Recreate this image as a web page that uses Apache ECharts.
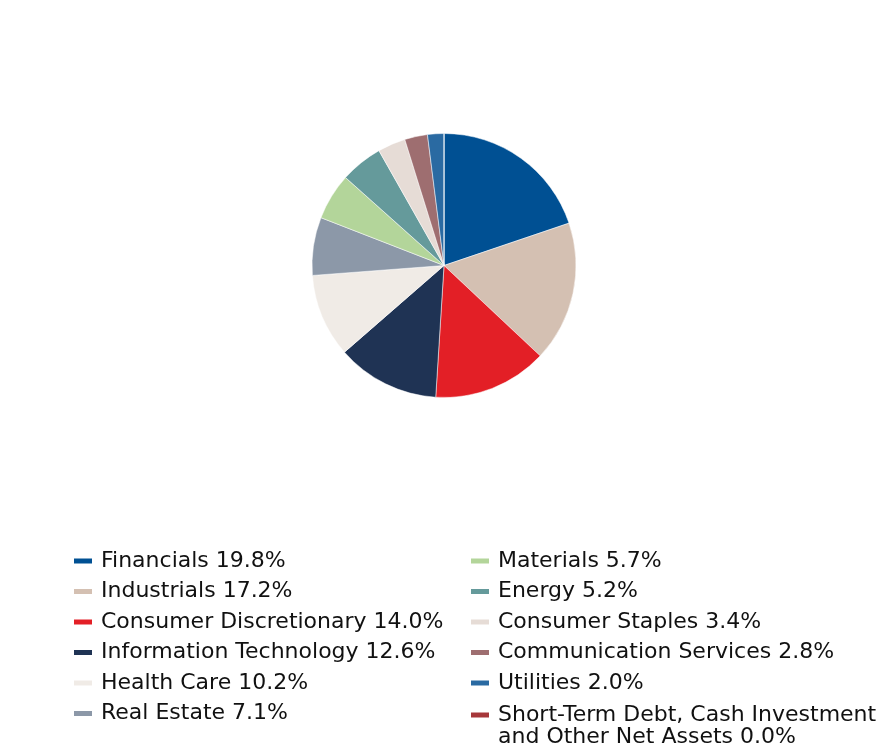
<!DOCTYPE html>
<html>
<head>
<meta charset="utf-8">
<script src="https://cdn.jsdelivr.net/npm/echarts@6/dist/echarts.min.js"></script>
<style>html,body{margin:0;padding:0;background:#fff;}#chart{width:888px;height:756px;}</style>
</head>
<body>
<div id="chart"></div>
<script>
const categories = ["Financials","Industrials","Consumer Discretionary","Information Technology","Health Care","Real Estate","Materials","Energy","Consumer Staples","Communication Services","Utilities","Short-Term Debt, Cash Investment and Other Net Assets"];
const values = [19.8,17.2,14.0,12.6,10.2,7.1,5.7,5.2,3.4,2.8,2.0,0.0];
const colors = ["#005093","#D4C0B2","#E31F26","#1F3354","#F0EBE6","#8C98A8","#B3D59A","#659A9B","#E6DCD6","#9E6E70","#2A6AA2","#A6373A"];
const legendLabels = {};
categories.forEach((c,i)=>{ legendLabels[c] = c + " " + values[i].toFixed(1) + "%"; });
legendLabels[categories[11]] = "Short-Term Debt, Cash Investment\nand Other Net Assets " + values[11].toFixed(1) + "%";

const chart = echarts.init(document.getElementById('chart'), null, {renderer:'canvas'});
const textStyle = {fontFamily:'DejaVu Sans', fontSize:22, color:'#111111', lineHeight:22, padding:[0,0,0,3]};
const baseLegend = {orient:'vertical', itemWidth:20, itemHeight:7, icon:'rect', itemGap:8.5, padding:0,
  formatter: n => legendLabels[n], textStyle: textStyle, selectedMode:false};
chart.setOption({
  animation:false,
  color: colors,
  legend: [
    Object.assign({}, baseLegend, {left:72, top:550, data: categories.slice(0,6)}),
    Object.assign({}, baseLegend, {left:469, top:550, data: categories.slice(6,11)}),
    Object.assign({}, baseLegend, {left:469, top:703, itemHeight:44, icon:'path://M0,7.5h20v7h-20zM0,0M0,44', data: categories.slice(11)})
  ],
  series: [{
    type:'pie',
    center:[444,265.5],
    radius:[0,132],
    startAngle:90,
    clockwise:true,
    label:{show:false},
    labelLine:{show:false},
    emphasis:{disabled:true},
    itemStyle:{borderColor:'#ffffff', borderWidth:0.5},
    data: categories.map((c,i)=>({name:c, value:values[i]}))
  }]
});
</script>
</body>
</html>
